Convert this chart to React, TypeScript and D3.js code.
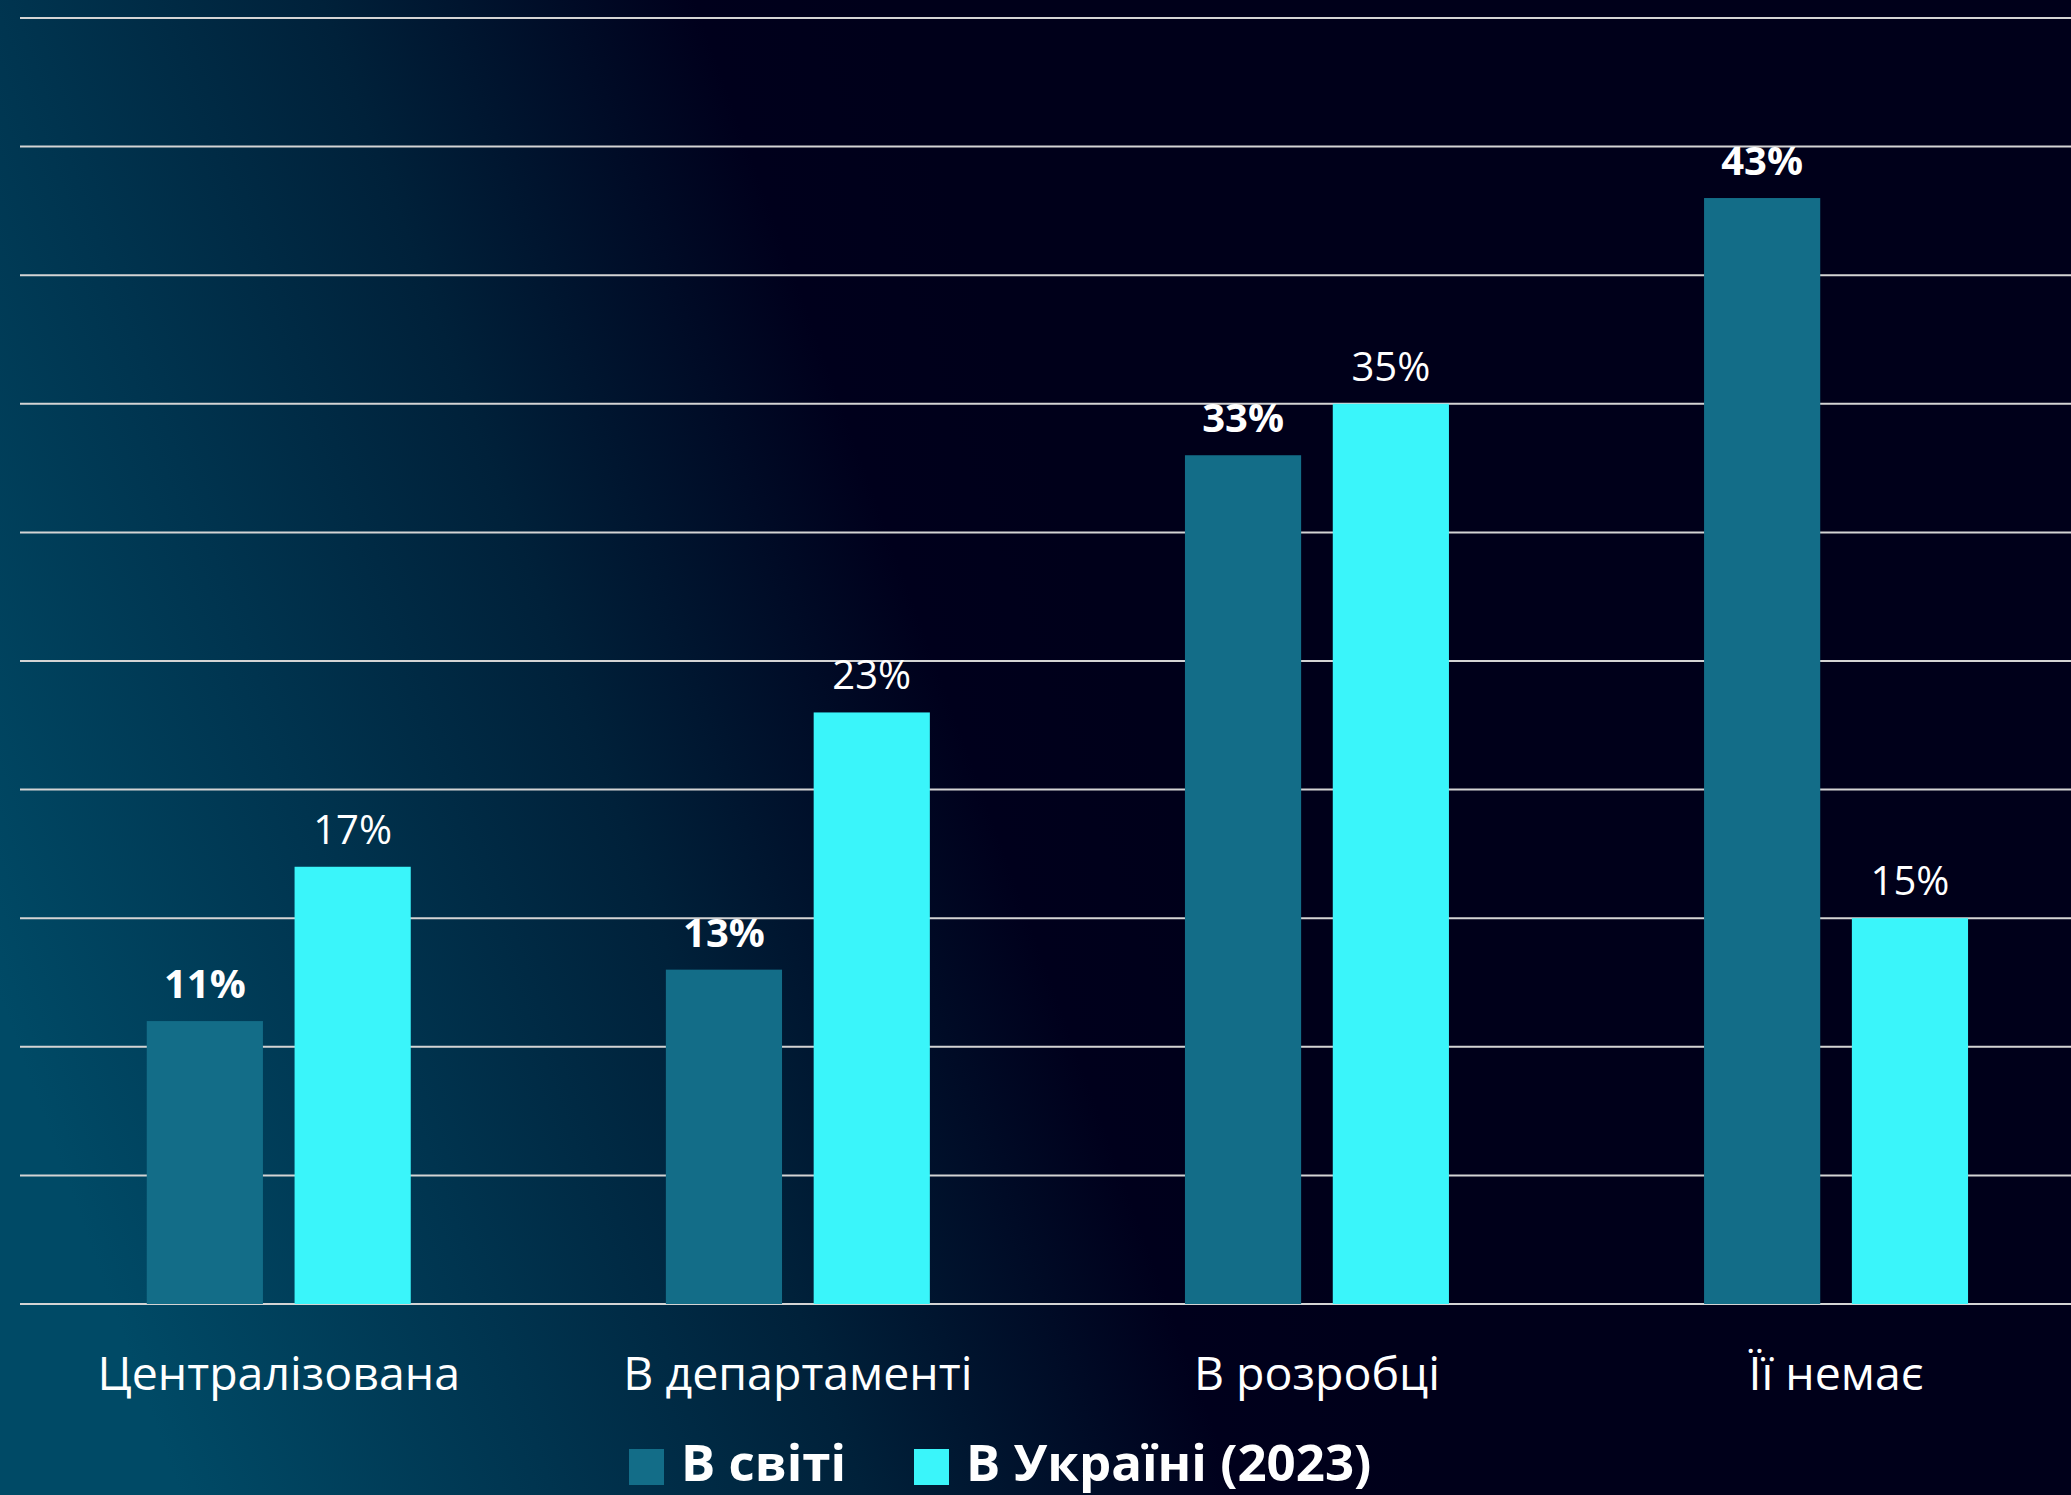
import React, { useEffect } from "react";
import * as d3 from "d3";

const categories = ["Централізована", "В департаменті", "В розробці", "Її немає"];
const seriesNames = ["В світі", "В Україні (2023)"];
const worldValues = [11, 13, 33, 43];
const ukraineValues = [17, 23, 35, 15];
const gridTicks = [0, 5, 10, 15, 20, 25, 30, 35, 40, 45, 50];

const W = 2071;
const H = 1495;
const colors = ["#136d88", "#3af5fa"];

export default function App() {
  useEffect(() => {
    document.body.style.margin = "0";
  }, []);

  const x0 = d3.scaleBand<string>().domain(categories).range([19.2, 2095.6]).padding(0);
  const groupW = 264;
  const x1 = d3
    .scaleBand<string>()
    .domain(seriesNames)
    .range([(x0.bandwidth() - groupW) / 2, (x0.bandwidth() + groupW) / 2])
    .paddingInner(0.214)
    .paddingOuter(0);
  const y = d3.scaleLinear().domain([0, 50]).range([1304, 18]);

  const series = [worldValues, ukraineValues];
  const font = "'Open Sans', 'Noto Sans', sans-serif";

  return (
    <svg width={W} height={H} style={{ display: "block" }} fontFamily={font}>
      <defs>
        <linearGradient id="bg" gradientUnits="userSpaceOnUse" x1={0} y1={1000} x2={1100} y2={600}>
          <stop offset="0" stopColor="#004a66" />
          <stop offset="0.3" stopColor="#00344f" />
          <stop offset="0.55" stopColor="#00213a" />
          <stop offset="0.85" stopColor="#00001c" />
          <stop offset="1" stopColor="#00001a" />
        </linearGradient>
      </defs>
      <rect x={0} y={0} width={W} height={H} fill="url(#bg)" />
      <g>
        {gridTicks.map((t) => (
          <line key={t} x1={20} x2={W} y1={y(t)} y2={y(t)} stroke="#d4d4d4" strokeWidth={2} />
        ))}
      </g>
      <g>
        {categories.map((c, ci) => (
          <g key={c} transform={`translate(${x0(c)},0)`}>
            {seriesNames.map((s, si) => {
              const v = series[si][ci];
              const bx = x1(s)!;
              return (
                <g key={s}>
                  <rect x={bx} y={y(v)} width={x1.bandwidth()} height={y(0) - y(v)} fill={colors[si]} />
                  <text
                    x={bx + x1.bandwidth() / 2}
                    y={y(v) - 23}
                    textAnchor="middle"
                    fill="#ffffff"
                    fontSize={40}
                    fontWeight={si === 0 ? 700 : 400}
                  >
                    {v}%
                  </text>
                </g>
              );
            })}
            <text x={x0.bandwidth() / 2} y={1390} textAnchor="middle" fill="#ffffff" fontSize={46.5}>
              {c}
            </text>
          </g>
        ))}
      </g>
      <g>
        {seriesNames.map((s, si) => {
          const lx = si === 0 ? 629 : 914;
          return (
            <g key={s}>
              <rect x={lx} y={1449} width={35} height={36} fill={colors[si]} />
              <text x={lx + 52} y={1481} fill="#ffffff" fontSize={51} fontWeight={700}>
                {s}
              </text>
            </g>
          );
        })}
      </g>
    </svg>
  );
}
